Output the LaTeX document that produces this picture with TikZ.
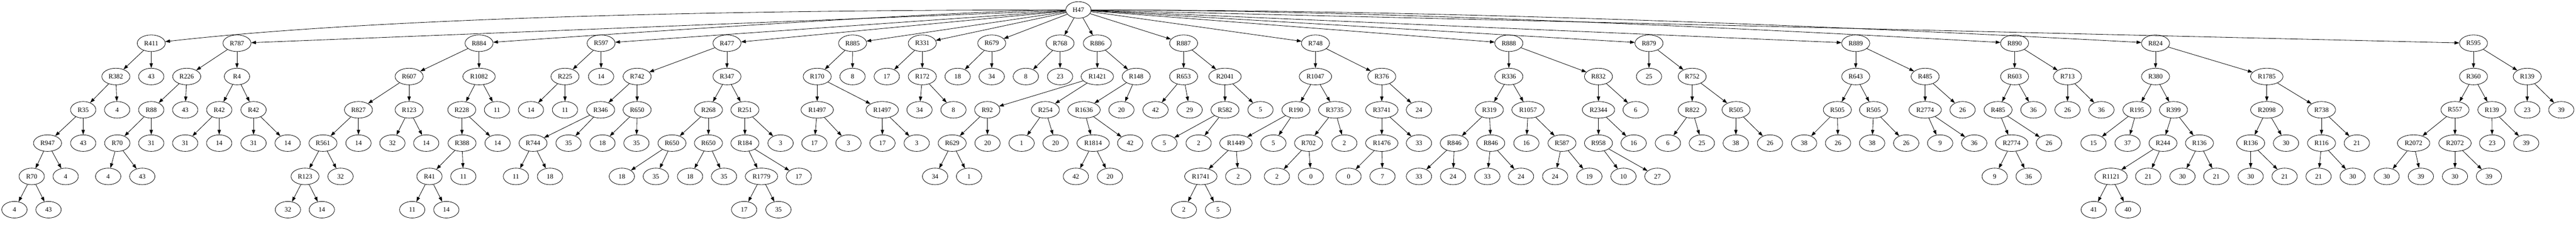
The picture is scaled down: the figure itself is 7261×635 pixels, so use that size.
\documentclass[tikz,border=0pt]{standalone}
\usepackage{fontspec}
\setmainfont{Liberation Serif}
\usetikzlibrary{shapes.geometric,arrows.meta}
\begin{document}
\begin{tikzpicture}[x=0.75pt,y=-0.75pt,
 nd/.style={ellipse, draw, line width=0.9pt, minimum width=53.5pt, minimum height=35pt, inner sep=0pt, font=\fontsize{14pt}{16pt}\selectfont},
 rthree/.style={nd, minimum width=59.3pt},
 rfour/.style={nd, minimum width=68.5pt},
 edge/.style={line width=0.9pt, -{Triangle[length=10pt,width=7pt]}}]
\useasboundingbox (0,0) rectangle (7261,635);
\def\La{28}\def\Lb{121.7}\def\Lc{215.4}\def\Ld{309.1}\def\Le{402.8}\def\Lf{496.5}\def\Lg{590.2}
% root
\node[nd] (h47) at (3039.7,\La) {H47};
% R411
\node[rthree] (a1) at (426.3,\Lb) {R411};
\node[rthree] (a2) at (326.6,\Lc) {R382};
\node[nd] (a3) at (426.3,\Lc) {43};
\node[nd] (a4) at (234.5,\Ld) {R35};
\node[nd] (a5) at (330.2,\Ld) {4};
\node[rthree] (a6) at (134,\Le) {R947};
\node[nd] (a7) at (234.5,\Le) {43};
\node[nd] (a8) at (89.4,\Lf) {R70};
\node[nd] (a9) at (185.1,\Lf) {4};
\node[nd] (a10) at (40.7,\Lg) {4};
\node[nd] (a11) at (136.8,\Lg) {43};
% R787
\node[rthree] (b1) at (668,\Lb) {R787};
\node[rthree] (b2) at (526.3,\Lc) {R226};
\node[nd] (b3) at (668,\Lc) {R4};
\node[nd] (b4) at (426.3,\Ld) {R88};
\node[nd] (b5) at (522,\Ld) {43};
\node[nd] (b6) at (618,\Ld) {R42};
\node[nd] (b7) at (714.7,\Ld) {R42};
\node[nd] (b8) at (330.6,\Le) {R70};
\node[nd] (b9) at (426.3,\Le) {31};
\node[nd] (b10) at (522,\Le) {31};
\node[nd] (b11) at (617.8,\Le) {14};
\node[nd] (b12) at (714.7,\Le) {31};
\node[nd] (b13) at (810.8,\Le) {14};
\node[nd] (b14) at (304.9,\Lf) {4};
\node[nd] (b15) at (401,\Lf) {43};
% R884
\node[rthree] (c1) at (1350.3,\Lb) {R884};
\node[rthree] (c2) at (1153.2,\Lc) {R607};
\node[rfour] (c3) at (1350.3,\Lc) {R1082};
\node[rthree] (c4) at (1010.4,\Ld) {R827};
\node[rthree] (c5) at (1153.2,\Ld) {R123};
\node[rthree] (c6) at (1301.6,\Ld) {R228};
\node[nd] (c7) at (1400.9,\Ld) {11};
\node[rthree] (c8) at (910.4,\Le) {R561};
\node[nd] (c9) at (1010.4,\Le) {14};
\node[nd] (c10) at (1106.1,\Le) {32};
\node[nd] (c11) at (1201.4,\Le) {14};
\node[rthree] (c12) at (1302.4,\Le) {R388};
\node[nd] (c13) at (1402.5,\Le) {14};
\node[rthree] (c14) at (859.8,\Lf) {R123};
\node[nd] (c15) at (959.8,\Lf) {32};
\node[nd] (c16) at (1210.5,\Lf) {R41};
\node[nd] (c17) at (1306,\Lf) {11};
\node[nd] (c18) at (811.5,\Lg) {32};
\node[nd] (c19) at (907.2,\Lg) {14};
\node[nd] (c20) at (1161.9,\Lg) {11};
\node[nd] (c21) at (1258.1,\Lg) {14};
% R597
\node[rthree] (d1) at (1694.3,\Lb) {R597};
\node[rthree] (d2) at (1592.6,\Lc) {R225};
\node[nd] (d3) at (1694.3,\Lc) {14};
\node[nd] (d4) at (1496.6,\Ld) {14};
\node[nd] (d5) at (1592.6,\Ld) {11};
% R477
\node[rthree] (e1) at (2049.1,\Lb) {R477};
\node[rthree] (e2) at (1795.9,\Lc) {R742};
\node[rthree] (e3) at (2049.1,\Lc) {R347};
\node[rthree] (e4) at (1693.1,\Ld) {R346};
\node[rthree] (e5) at (1795.9,\Ld) {R650};
\node[rthree] (e6) at (1996.9,\Ld) {R268};
\node[rthree] (e7) at (2099.7,\Ld) {R251};
\node[rthree] (e8) at (1502.5,\Le) {R744};
\node[nd] (e9) at (1602.5,\Le) {35};
\node[nd] (e10) at (1698.2,\Le) {18};
\node[nd] (e11) at (1793.9,\Le) {35};
\node[rthree] (e12) at (1894.1,\Le) {R650};
\node[rthree] (e13) at (1996.9,\Le) {R650};
\node[rthree] (e14) at (2099.7,\Le) {R184};
\node[nd] (e15) at (2200.2,\Le) {3};
\node[nd] (e16) at (1454.2,\Lf) {11};
\node[nd] (e17) at (1550.3,\Lf) {18};
\node[nd] (e18) at (1752.8,\Lf) {18};
\node[nd] (e19) at (1848.6,\Lf) {35};
\node[nd] (e20) at (1945.1,\Lf) {18};
\node[nd] (e21) at (2040.8,\Lf) {35};
\node[rfour] (e22) at (2146.4,\Lf) {R1779};
\node[nd] (e23) at (2251.6,\Lf) {17};
\node[nd] (e24) at (2097.4,\Lg) {17};
\node[nd] (e25) at (2194.2,\Lg) {35};
% R885
\node[rthree] (f1) at (2403.2,\Lb) {R885};
\node[rthree] (f2) at (2303.4,\Lc) {R170};
\node[nd] (f3) at (2403,\Lc) {8};
\node[rfour] (f4) at (2303.4,\Ld) {R1497};
\node[rfour] (f5) at (2486.6,\Ld) {R1497};
\node[nd] (f6) at (2295.5,\Le) {17};
\node[nd] (f7) at (2391.5,\Le) {3};
\node[nd] (f8) at (2487.4,\Le) {17};
\node[nd] (f9) at (2583.9,\Le) {3};
% R331
\node[rthree] (g1) at (2599.7,\Lb) {R331};
\node[nd] (g2) at (2499.6,\Lc) {17};
\node[rthree] (g3) at (2599.7,\Lc) {R172};
\node[nd] (g4) at (2591.8,\Ld) {34};
\node[nd] (g5) at (2687.5,\Ld) {8};
% R679
\node[rthree] (h1) at (2795.4,\Lb) {R679};
\node[nd] (h2) at (2699.3,\Lc) {18};
\node[nd] (h3) at (2795.4,\Lc) {34};
% R768
\node[rthree] (i1) at (2988,\Lb) {R768};
\node[nd] (i2) at (2891.5,\Lc) {8};
\node[nd] (i3) at (2988,\Lc) {23};
% R886
\node[rthree] (j1) at (3093,\Lb) {R886};
\node[rfour] (j2) at (3093,\Lc) {R1421};
\node[rthree] (j3) at (3202.6,\Lc) {R148};
\node[nd] (j4) at (2782.8,\Ld) {R92};
\node[rthree] (j5) at (2946.5,\Ld) {R254};
\node[rfour] (j6) at (3055.5,\Ld) {R1636};
\node[nd] (j7) at (3161,\Ld) {20};
\node[rthree] (j8) at (2683.9,\Le) {R629};
\node[nd] (j9) at (2783.5,\Le) {20};
\node[nd] (j10) at (2879.6,\Le) {1};
\node[nd] (j11) at (2975.3,\Le) {20};
\node[rfour] (j12) at (3081.2,\Le) {R1814};
\node[nd] (j13) at (3185.6,\Le) {42};
\node[nd] (j14) at (2635.7,\Lf) {34};
\node[nd] (j15) at (2731.4,\Lf) {1};
\node[nd] (j16) at (3032.5,\Lf) {42};
\node[nd] (j17) at (3128.6,\Lf) {20};
% R887
\node[rthree] (k1) at (3336.2,\Lb) {R887};
\node[rthree] (k2) at (3336.2,\Lc) {R653};
\node[rfour] (k3) at (3452.9,\Lc) {R2041};
\node[nd] (k4) at (3257.1,\Ld) {42};
\node[nd] (k5) at (3353.2,\Ld) {29};
\node[rthree] (k6) at (3452.9,\Ld) {R582};
\node[nd] (k7) at (3552.9,\Ld) {5};
\node[nd] (k8) at (3282,\Le) {5};
\node[nd] (k9) at (3378.5,\Le) {2};
% R748
\node[rthree] (l1) at (3707.8,\Lb) {R748};
\node[rfour] (l2) at (3707.8,\Lc) {R1047};
\node[rthree] (l3) at (3894.8,\Lc) {R376};
\node[rthree] (l4) at (3652.8,\Ld) {R190};
\node[rfour] (l5) at (3762.3,\Ld) {R3735};
\node[rfour] (l6) at (3894.8,\Ld) {R3741};
\node[nd] (l7) at (3999.6,\Ld) {24};
\node[rfour] (l8) at (3483.7,\Le) {R1449};
\node[nd] (l9) at (3589.3,\Le) {5};
\node[rthree] (l10) at (3688.4,\Le) {R702};
\node[nd] (l11) at (3789.2,\Le) {2};
\node[rfour] (l12) at (3894.8,\Le) {R1476};
\node[nd] (l13) at (3999.6,\Le) {33};
\node[rfour] (l14) at (3384.8,\Lf) {R1741};
\node[nd] (l15) at (3490,\Lf) {2};
\node[nd] (l16) at (3599.2,\Lf) {2};
\node[nd] (l17) at (3695.1,\Lf) {0};
\node[nd] (l18) at (3801.1,\Lf) {0};
\node[nd] (l19) at (3896.8,\Lf) {7};
\node[nd] (l20) at (3337,\Lg) {2};
\node[nd] (l21) at (3433.1,\Lg) {5};
% R888
\node[rthree] (m1) at (4253,\Lb) {R888};
\node[rthree] (m2) at (4253,\Lc) {R336};
\node[rthree] (m3) at (4505.6,\Lc) {R832};
\node[rthree] (m4) at (4198.1,\Ld) {R319};
\node[rfour] (m5) at (4307.1,\Ld) {R1057};
\node[rfour] (m6) at (4505.6,\Ld) {R2344};
\node[nd] (m7) at (4610.4,\Ld) {6};
\node[rthree] (m8) at (4099.2,\Le) {R846};
\node[rthree] (m9) at (4202,\Le) {R846};
\node[nd] (m10) at (4302.4,\Le) {16};
\node[rthree] (m11) at (4402.8,\Le) {R587};
\node[rthree] (m12) at (4505.6,\Le) {R958};
\node[nd] (m13) at (4604.8,\Le) {16};
\node[nd] (m14) at (3999.6,\Lf) {33};
\node[nd] (m15) at (4095.7,\Lf) {24};
\node[nd] (m16) at (4192.2,\Lf) {33};
\node[nd] (m17) at (4287.3,\Lf) {24};
\node[nd] (m18) at (4383.4,\Lf) {24};
\node[nd] (m19) at (4479.9,\Lf) {19};
\node[nd] (m20) at (4576,\Lf) {10};
\node[nd] (m21) at (4671.7,\Lf) {27};
% R879
\node[rthree] (n1) at (4648,\Lb) {R879};
\node[nd] (n2) at (4648,\Lc) {25};
\node[rthree] (n3) at (4769.7,\Lc) {R752};
\node[rthree] (n4) at (4769.7,\Ld) {R822};
\node[rthree] (n5) at (4893.4,\Ld) {R505};
\node[nd] (n6) at (4701.3,\Le) {6};
\node[nd] (n7) at (4797,\Le) {25};
\node[nd] (n8) at (4892.6,\Le) {38};
\node[nd] (n9) at (4989.1,\Le) {26};
% R889
\node[rthree] (o1) at (5230.7,\Lb) {R889};
\node[rthree] (o2) at (5230.7,\Lc) {R643};
\node[rthree] (o3) at (5426.4,\Lc) {R485};
\node[rthree] (o4) at (5178.9,\Ld) {R505};
\node[rthree] (o5) at (5280.9,\Ld) {R505};
\node[rfour] (o6) at (5426.4,\Ld) {R2774};
\node[nd] (o7) at (5531.9,\Ld) {26};
\node[nd] (o8) at (5085.2,\Le) {38};
\node[nd] (o9) at (5180.8,\Le) {26};
\node[nd] (o10) at (5276.9,\Le) {38};
\node[nd] (o11) at (5373,\Le) {26};
\node[nd] (o12) at (5468.6,\Le) {9};
\node[nd] (o13) at (5564.7,\Le) {36};
% R890
\node[rthree] (p1) at (5678.5,\Lb) {R890};
\node[rthree] (p2) at (5678.5,\Lc) {R603};
\node[rthree] (p3) at (5827.6,\Lc) {R713};
\node[rthree] (p4) at (5631.9,\Ld) {R485};
\node[nd] (p5) at (5731.5,\Ld) {36};
\node[nd] (p6) at (5827.6,\Ld) {26};
\node[nd] (p7) at (5923.3,\Ld) {36};
\node[rfour] (p8) at (5670.2,\Le) {R2774};
\node[nd] (p9) at (5775.4,\Le) {26};
\node[nd] (p10) at (5622.4,\Lf) {9};
\node[nd] (p11) at (5718.1,\Lf) {36};
% R824
\node[rthree] (q1) at (6075.8,\Lb) {R824};
\node[rthree] (q2) at (6075.8,\Lc) {R380};
\node[rfour] (q3) at (6389.4,\Lc) {R1785};
\node[rthree] (q4) at (6023.3,\Ld) {R195};
\node[rthree] (q5) at (6126.4,\Ld) {R399};
\node[rfour] (q6) at (6389.4,\Ld) {R2098};
\node[rthree] (q7) at (6543.6,\Ld) {R738};
\node[nd] (q8) at (5900.8,\Le) {15};
\node[nd] (q9) at (5996.9,\Le) {37};
\node[rthree] (q10) at (6096.8,\Le) {R244};
\node[rthree] (q11) at (6199.6,\Le) {R136};
\node[rthree] (q12) at (6343.9,\Le) {R136};
\node[nd] (q13) at (6443.6,\Le) {30};
\node[rthree] (q14) at (6543.6,\Le) {R116};
\node[nd] (q15) at (6643.2,\Le) {21};
\node[rfour] (q16) at (5950.2,\Lf) {R1121};
\node[nd] (q17) at (6055,\Lf) {21};
\node[nd] (q18) at (6151.7,\Lf) {30};
\node[nd] (q19) at (6247,\Lf) {21};
\node[nd] (q20) at (6343.9,\Lf) {30};
\node[nd] (q21) at (6439.6,\Lf) {21};
\node[nd] (q22) at (6535.3,\Lf) {21};
\node[nd] (q23) at (6631.4,\Lf) {30};
\node[nd] (q24) at (5901.6,\Lg) {41};
\node[nd] (q25) at (5998,\Lg) {40};
% R595
\node[rthree] (r1) at (6972,\Lb) {R595};
\node[rthree] (r2) at (6972,\Lc) {R360};
\node[rthree] (r3) at (7123.4,\Lc) {R139};
\node[rthree] (r4) at (6919.8,\Ld) {R557};
\node[rthree] (r5) at (7023.8,\Ld) {R139};
\node[nd] (r6) at (7123.4,\Ld) {23};
\node[nd] (r7) at (7219.5,\Ld) {39};
\node[rfour] (r8) at (6803.1,\Le) {R2072};
\node[rfour] (r9) at (6919.8,\Le) {R2072};
\node[nd] (r10) at (7024.6,\Le) {23};
\node[nd] (r11) at (7120.6,\Le) {39};
\node[nd] (r12) at (6727.2,\Lf) {30};
\node[nd] (r13) at (6823.7,\Lf) {39};
\node[nd] (r14) at (6919.8,\Lf) {30};
\node[nd] (r15) at (7015.5,\Lf) {39};
% root edges
\draw[edge] (h47) .. controls (1846.7,28) and (975.4,59.3) .. (a1);
\draw[edge] (h47) .. controls (2813.3,28) and (2250.1,59.3) .. (c1);
\draw[edge] (h47) .. controls (3680,28) and (4559.5,59.3) .. (p1);
\draw[edge] (h47) .. controls (3906,28) and (4917.9,59.3) .. (q1);
\foreach \t in {b1,d1,e1,f1,g1,h1,i1,j1,k1,l1,m1,n1,o1,r1}
  \draw[edge] (h47) -- (\t);
% tree edges
\foreach \s/\t in {a1/a2,a1/a3,a2/a4,a2/a5,a4/a6,a4/a7,a6/a8,a6/a9,a8/a10,a8/a11,
 b1/b2,b1/b3,b2/b4,b2/b5,b3/b6,b3/b7,b4/b8,b4/b9,b6/b10,b6/b11,b7/b12,b7/b13,b8/b14,b8/b15,
 c1/c2,c1/c3,c2/c4,c2/c5,c3/c6,c3/c7,c4/c8,c4/c9,c5/c10,c5/c11,c6/c12,c6/c13,c8/c14,c8/c15,c12/c16,c12/c17,c14/c18,c14/c19,c16/c20,c16/c21,
 d1/d2,d1/d3,d2/d4,d2/d5,
 e1/e2,e1/e3,e2/e4,e2/e5,e3/e6,e3/e7,e4/e8,e4/e9,e5/e10,e5/e11,e6/e12,e6/e13,e7/e14,e7/e15,e8/e16,e8/e17,e12/e18,e12/e19,e13/e20,e13/e21,e14/e22,e14/e23,e22/e24,e22/e25,
 f1/f2,f1/f3,f2/f4,f2/f5,f4/f6,f4/f7,f5/f8,f5/f9,
 g1/g2,g1/g3,g3/g4,g3/g5,
 h1/h2,h1/h3,
 i1/i2,i1/i3,
 j1/j2,j1/j3,j2/j4,j2/j5,j3/j6,j3/j7,j4/j8,j4/j9,j5/j10,j5/j11,j6/j12,j6/j13,j8/j14,j8/j15,j12/j16,j12/j17,
 k1/k2,k1/k3,k2/k4,k2/k5,k3/k6,k3/k7,k6/k8,k6/k9,
 l1/l2,l1/l3,l2/l4,l2/l5,l3/l6,l3/l7,l4/l8,l4/l9,l5/l10,l5/l11,l6/l12,l6/l13,l8/l14,l8/l15,l10/l16,l10/l17,l12/l18,l12/l19,l14/l20,l14/l21,
 m1/m2,m1/m3,m2/m4,m2/m5,m3/m6,m3/m7,m4/m8,m4/m9,m5/m10,m5/m11,m6/m12,m6/m13,m8/m14,m8/m15,m9/m16,m9/m17,m11/m18,m11/m19,m12/m20,m12/m21,
 n1/n2,n1/n3,n3/n4,n3/n5,n4/n6,n4/n7,n5/n8,n5/n9,
 o1/o2,o1/o3,o2/o4,o2/o5,o3/o6,o3/o7,o4/o8,o4/o9,o5/o10,o5/o11,o6/o12,o6/o13,
 p1/p2,p1/p3,p2/p4,p2/p5,p3/p6,p3/p7,p4/p8,p4/p9,p8/p10,p8/p11,
 q1/q2,q1/q3,q2/q4,q2/q5,q3/q6,q3/q7,q4/q8,q4/q9,q5/q10,q5/q11,q6/q12,q6/q13,q7/q14,q7/q15,q10/q16,q10/q17,q11/q18,q11/q19,q12/q20,q12/q21,q14/q22,q14/q23,q16/q24,q16/q25,
 r1/r2,r1/r3,r2/r4,r2/r5,r3/r6,r3/r7,r4/r8,r4/r9,r5/r10,r5/r11,r8/r12,r8/r13,r9/r14,r9/r15}
  \draw[edge] (\s) -- (\t);
\end{tikzpicture}
\end{document}
